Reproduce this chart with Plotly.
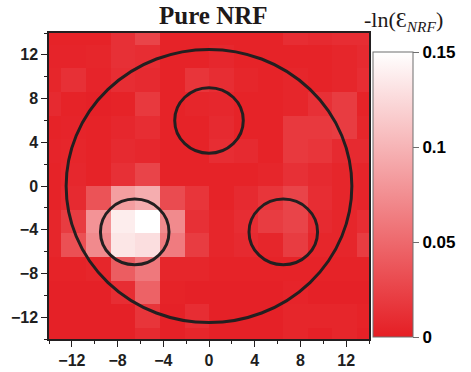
import plotly.graph_objects as go

# grid centres (cells 28/13 wide, half cells at the edges)
x_centers = [-14.0, -11.85, -9.69, -7.54, -5.38, -3.23, -1.08, 1.08, 3.23, 5.38, 7.54, 9.69, 11.85, 14.0]
y_centers = [14.0, 11.85, 9.69, 7.54, 5.38, 3.23, 1.08, -1.08, -3.23, -5.38, -7.54, -9.69, -11.85, -14.0]

# -ln(E_NRF) values, rows from top (y=14) to bottom (y=-14)
z_rows = [
    [0.003, 0.003, 0.003, 0.012, 0.025, 0.003, 0.003, 0.003, 0.003, 0.003, 0.010, 0.008, 0.010, 0.010],
    [0.004, 0.004, 0.005, 0.012, 0.010, 0.003, 0.003, 0.006, 0.003, 0.003, 0.003, 0.003, 0.005, 0.008],
    [0.005, 0.012, 0.004, 0.010, 0.008, 0.003, 0.015, 0.010, 0.005, 0.003, 0.005, 0.003, 0.005, 0.010],
    [0.008, 0.003, 0.002, 0.003, 0.018, 0.003, 0.005, 0.006, 0.003, 0.003, 0.005, 0.012, 0.020, 0.003],
    [0.003, 0.004, 0.003, 0.006, 0.010, 0.003, 0.003, 0.008, 0.003, 0.003, 0.018, 0.018, 0.020, 0.005],
    [0.004, 0.005, 0.003, 0.008, 0.006, 0.003, 0.003, 0.010, 0.008, 0.003, 0.018, 0.015, 0.008, 0.008],
    [0.003, 0.006, 0.003, 0.012, 0.025, 0.003, 0.003, 0.003, 0.003, 0.005, 0.012, 0.008, 0.005, 0.004],
    [0.003, 0.008, 0.035, 0.085, 0.095, 0.030, 0.015, 0.003, 0.008, 0.015, 0.025, 0.010, 0.005, 0.004],
    [0.005, 0.020, 0.078, 0.138, 0.150, 0.072, 0.012, 0.005, 0.010, 0.020, 0.025, 0.008, 0.005, 0.010],
    [0.005, 0.033, 0.072, 0.133, 0.128, 0.062, 0.020, 0.005, 0.008, 0.005, 0.020, 0.005, 0.005, 0.020],
    [0.003, 0.003, 0.005, 0.042, 0.060, 0.005, 0.005, 0.003, 0.003, 0.003, 0.003, 0.003, 0.003, 0.003],
    [0.002, 0.002, 0.002, 0.010, 0.045, 0.003, 0.002, 0.002, 0.002, 0.002, 0.004, 0.002, 0.002, 0.002],
    [0.002, 0.002, 0.002, 0.002, 0.015, 0.002, 0.010, 0.002, 0.002, 0.002, 0.005, 0.005, 0.005, 0.003],
    [0.002, 0.002, 0.002, 0.002, 0.008, 0.002, 0.005, 0.002, 0.002, 0.002, 0.005, 0.002, 0.005, 0.002],
]

tick_vals = [-12, -8, -4, 0, 4, 8, 12]
cbar_ticks = [0, 0.05, 0.1, 0.15]
cbar_labels = ["0", "0.05", "0.1", "0.15"]

# circles: (centre x, centre y, radius)
circle_cx = [0.0, 0.0, -6.5, 6.5]
circle_cy = [0.0, 6.0, -4.2, -4.2]
circle_r = [12.5, 3.0, 3.0, 3.0]

RED = "rgb(229,30,36)"
DARK = "rgb(35,31,32)"

fig = go.Figure()
fig.add_trace(go.Heatmap(
    x=x_centers, y=y_centers, z=z_rows,
    zmin=0, zmax=0.15,
    colorscale=[[0, RED], [1, "rgb(255,255,255)"]],
    colorbar=dict(
        thickness=40, thicknessmode="pixels",
        len=285, lenmode="pixels",
        x=1.0125, xanchor="left", xpad=0,
        y=0.0065, yanchor="bottom", ypad=0,
        outlinewidth=1, outlinecolor="rgb(110,110,110)",
        tickvals=cbar_ticks, ticktext=cbar_labels,
        ticks="outside", ticklen=6, tickcolor="rgb(110,110,110)",
        tickfont=dict(family="Liberation Sans", size=17, color="black", weight="bold"),
    ),
    hoverinfo="skip",
))

shapes = []
for cx, cy, r in zip(circle_cx, circle_cy, circle_r):
    shapes.append(dict(type="circle", xref="x", yref="y",
                       x0=cx - r, x1=cx + r, y0=cy - r, y1=cy + r,
                       line=dict(color=DARK, width=3)))

axis_common = dict(
    range=[-14, 14], tickvals=tick_vals, ticks="outside", ticklen=6, tickwidth=1.2,
    tickcolor=DARK, showline=True, linecolor=DARK, linewidth=1.5, mirror=True,
    showgrid=False, zeroline=False, automargin=False,
    tickfont=dict(family="Liberation Sans", size=16, color="rgb(30,30,30)", weight="bold"),
    minor=dict(tickvals=[-14, -10, -6, -2, 2, 6, 10, 14], ticks="outside", ticklen=3,
               tickcolor=DARK, showgrid=False),
)

fig.update_layout(
    width=471, height=372,
    margin=dict(l=49, r=102, t=33, b=33, autoexpand=False),
    paper_bgcolor="white", plot_bgcolor="white",
    xaxis=dict(**axis_common),
    yaxis=dict(**axis_common),
    shapes=shapes,
    annotations=[
        dict(text="<b>Pure NRF</b>", xref="paper", yref="paper", x=0.5125, y=1.0,
             yshift=2, xanchor="center", yanchor="bottom", showarrow=False,
             font=dict(family="Liberation Serif", size=25, color="rgb(30,25,25)")),
        dict(text="-ln(Ɛ<sub><i>NRF</i></sub>)", xref="paper", yref="paper", x=0.978, y=1.0,
             yshift=-4, xanchor="left", yanchor="bottom", showarrow=False,
             font=dict(family="Liberation Serif", size=22, color="rgb(30,25,25)")),
    ],
)

fig.write_html("out.html")
